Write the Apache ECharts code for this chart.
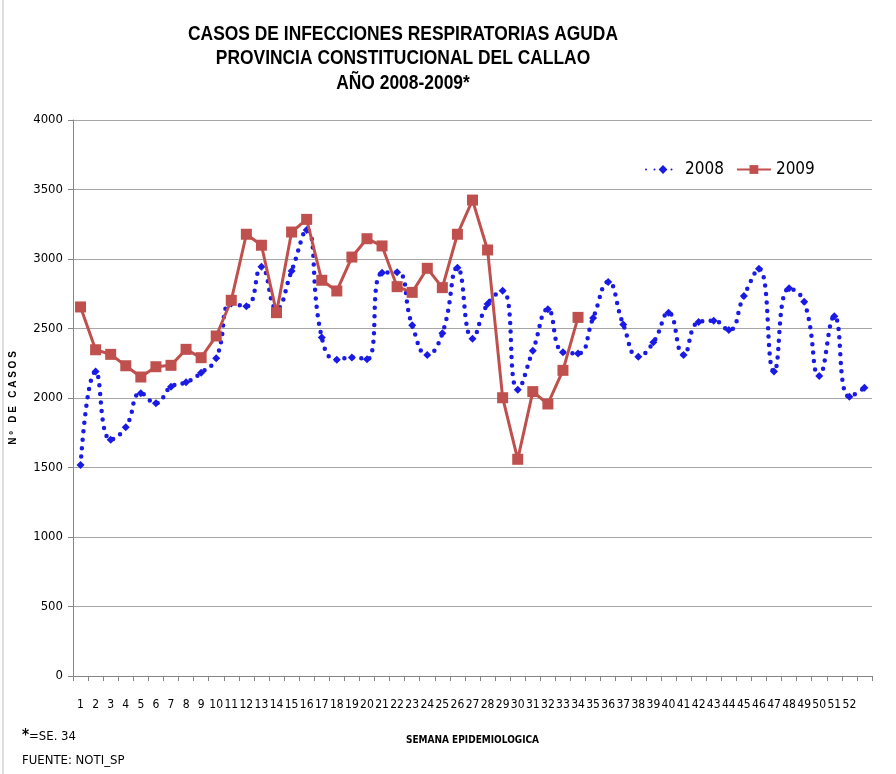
<!DOCTYPE html>
<html>
<head>
<meta charset="utf-8">
<script src="https://cdn.jsdelivr.net/npm/echarts@6/dist/echarts.min.js"></script>
<style>
  html, body { margin: 0; padding: 0; background: #ffffff; }
  #chart { width: 896px; height: 774px; }
</style>
</head>
<body>
<div id="chart"></div>
<script>
/* Semanas epidemiológicas: 2008 tuvo 53 semanas, el eje sólo rotula 1..52 */
var semanas = [];
for (var s = 1; s <= 52; s++) { semanas.push(String(s)); }
semanas.push("");

var casos2008 = [
  1518, 2190, 1700, 1790, 2034, 1962, 2081, 2113, 2182, 2286,
  2680, 2660, 2945, 2640, 2914, 3209, 2436, 2275, 2292, 2278,
  2901, 2904, 2523, 2309, 2465, 2937, 2427, 2676, 2772, 2060,
  2340, 2638, 2329, 2321, 2575, 2835, 2528, 2297, 2401, 2614,
  2309, 2547, 2556, 2489, 2734, 2930, 2190, 2789, 2693, 2158,
  2588, 2009, 2074
];

/* 2009 hasta la SE. 34 */
var casos2009 = [
  2655, 2347, 2314, 2232, 2151, 2225, 2235, 2350, 2290, 2446,
  2703, 3178, 3099, 2614, 3194, 3285, 2847, 2770, 3014, 3146,
  3094, 2801, 2760, 2933, 2794, 3178, 3424, 3065, 2002, 1559,
  2046, 1957, 2199, 2580
];

var yTicks = [0, 500, 1000, 1500, 2000, 2500, 3000, 3500, 4000];

var titulo = [
  "CASOS DE INFECCIONES RESPIRATORIAS AGUDA",
  "PROVINCIA CONSTITUCIONAL DEL CALLAO",
  "AÑO 2008-2009*"
];

var COND = "'DejaVu Sans Condensed', 'Liberation Sans', sans-serif";
var TITLE_FONT = "bold 21px 'Liberation Sans', Arial, sans-serif";

/* el título original es estrecho: se comprime horizontalmente la primera línea a ~430 px */
var ctx = document.createElement("canvas").getContext("2d");
ctx.font = TITLE_FONT;
var escala = 430 / ctx.measureText(titulo[0]).width;
if (!isFinite(escala) || escala <= 0) { escala = 0.9; }

var titleGraphics = [];
for (var i = 0; i < titulo.length; i++) {
  titleGraphics.push({
    type: "text",
    x: 403,
    y: 34 + i * 24.5,
    scaleX: escala,
    style: {
      text: titulo[i],
      x: 0,
      y: 0,
      align: "center",
      verticalAlign: "middle",
      font: TITLE_FONT,
      fill: "#000000"
    }
  });
}

var chart = echarts.init(document.getElementById("chart"));

chart.setOption({
  animation: false,
  backgroundColor: "#ffffff",
  legend: {
    left: 640,
    top: 156,
    itemWidth: 34,
    itemHeight: 11,
    itemGap: 12,
    textStyle: { fontFamily: COND, fontSize: 17, color: "#000000" },
    data: ["2008", "2009"]
  },
  grid: { left: 72.7, right: 24, top: 120, bottom: 98 },
  xAxis: {
    type: "category",
    data: semanas,
    boundaryGap: true,
    name: "SEMANA EPIDEMIOLOGICA",
    nameLocation: "middle",
    nameGap: 59,
    nameTextStyle: { fontFamily: COND, fontSize: 10, fontWeight: "bold", color: "#000000" },
    axisLine: { lineStyle: { color: "#868686", width: 1 } },
    axisTick: { show: true, alignWithLabel: false, interval: 0, length: 5, lineStyle: { color: "#868686" } },
    axisLabel: { interval: 0, margin: 23, fontFamily: COND, fontSize: 12, color: "#000000" },
    splitLine: { show: false }
  },
  yAxis: {
    type: "value",
    min: yTicks[0],
    max: yTicks[yTicks.length - 1],
    interval: 500,
    name: "N º   D E   C A S O S",
    nameLocation: "middle",
    nameGap: 55,
    nameRotate: 90,
    nameTextStyle: { fontFamily: "'Liberation Sans', sans-serif", fontSize: 10, fontWeight: "bold", color: "#000000" },
    axisLine: { show: true, lineStyle: { color: "#868686", width: 1 } },
    axisTick: { show: true, length: 5, lineStyle: { color: "#868686" } },
    axisLabel: {
      margin: 10,
      fontFamily: COND,
      fontSize: 13,
      color: "#000000",
      formatter: function (v) { return String(v); }
    },
    splitLine: { show: true, lineStyle: { color: "#a6a6a6", width: 1.2 } }
  },
  series: [
    {
      name: "2008",
      type: "line",
      data: casos2008,
      smooth: 0.5,
      symbol: "diamond",
      symbolSize: 8,
      itemStyle: { color: "#1a1ae6" },
      lineStyle: { color: "#1a1ae6", width: 4.5, type: [0, 8.5], cap: "round" },
      z: 2
    },
    {
      name: "2009",
      type: "line",
      data: casos2009,
      symbol: "rect",
      symbolSize: 11,
      itemStyle: { color: "#c0504d" },
      lineStyle: { color: "#c0504d", width: 3 },
      z: 3
    }
  ],
  graphic: titleGraphics.concat([
    {
      type: "line",
      shape: { x1: 3, y1: 0, x2: 3, y2: 774 },
      style: { stroke: "#bfbfbf", lineWidth: 1 }
    },
    {
      type: "text",
      left: 22,
      top: 729,
      style: {
        text: "{a|*}{b|=SE. 34}",
        rich: {
          a: { fontFamily: COND, fontSize: 15, fontWeight: "bold", fill: "#000000" },
          b: { fontFamily: COND, fontSize: 13, fill: "#000000" }
        }
      }
    },
    {
      type: "text",
      left: 22,
      top: 754,
      style: { text: "FUENTE: NOTI_SP", fontFamily: COND, fontSize: 13, fill: "#000000" }
    }
  ])
});
</script>
</body>
</html>
